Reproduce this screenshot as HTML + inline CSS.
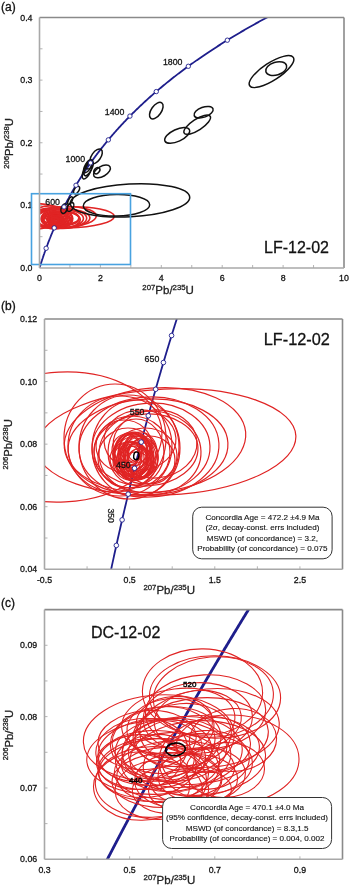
<!DOCTYPE html>
<html><head><meta charset="utf-8"><style>
html,body{margin:0;padding:0;background:#fff;}
svg{display:block;will-change:transform;}
text{font-family:"Liberation Sans",sans-serif;stroke:#111;stroke-width:0.28px;paint-order:stroke;}
</style></head><body>
<svg width="350" height="886" viewBox="0 0 350 886">
<rect width="350" height="886" fill="#fff"/>
<text x="1" y="11" font-size="12" text-anchor="start" fill="#111" style="stroke-width:0.3px">(a)</text>
<text x="32.5" y="271.0" font-size="8.8" text-anchor="end" fill="#111" >0.0</text>
<text x="32.5" y="208.375" font-size="8.8" text-anchor="end" fill="#111" >0.1</text>
<text x="32.5" y="145.75" font-size="8.8" text-anchor="end" fill="#111" >0.2</text>
<text x="32.5" y="83.125" font-size="8.8" text-anchor="end" fill="#111" >0.3</text>
<text x="32.5" y="20.5" font-size="8.8" text-anchor="end" fill="#111" >0.4</text>
<text x="39.5" y="281" font-size="8.8" text-anchor="middle" fill="#111" >0</text>
<text x="100.4" y="281" font-size="8.8" text-anchor="middle" fill="#111" >2</text>
<text x="161.3" y="281" font-size="8.8" text-anchor="middle" fill="#111" >4</text>
<text x="222.2" y="281" font-size="8.8" text-anchor="middle" fill="#111" >6</text>
<text x="283.1" y="281" font-size="8.8" text-anchor="middle" fill="#111" >8</text>
<text x="344.0" y="281" font-size="8.8" text-anchor="middle" fill="#111" >10</text>
<line x1="69.95" y1="268" x2="69.95" y2="265" stroke="#b4b4b4" stroke-width="1"/>
<line x1="100.40" y1="268" x2="100.40" y2="265" stroke="#b4b4b4" stroke-width="1"/>
<line x1="130.85" y1="268" x2="130.85" y2="265" stroke="#b4b4b4" stroke-width="1"/>
<line x1="161.30" y1="268" x2="161.30" y2="265" stroke="#b4b4b4" stroke-width="1"/>
<line x1="191.75" y1="268" x2="191.75" y2="265" stroke="#b4b4b4" stroke-width="1"/>
<line x1="222.20" y1="268" x2="222.20" y2="265" stroke="#b4b4b4" stroke-width="1"/>
<line x1="252.65" y1="268" x2="252.65" y2="265" stroke="#b4b4b4" stroke-width="1"/>
<line x1="283.10" y1="268" x2="283.10" y2="265" stroke="#b4b4b4" stroke-width="1"/>
<line x1="313.55" y1="268" x2="313.55" y2="265" stroke="#b4b4b4" stroke-width="1"/>
<line x1="39.5" y1="236.69" x2="42.5" y2="236.69" stroke="#b4b4b4" stroke-width="1"/>
<line x1="39.5" y1="205.38" x2="42.5" y2="205.38" stroke="#b4b4b4" stroke-width="1"/>
<line x1="39.5" y1="174.06" x2="42.5" y2="174.06" stroke="#b4b4b4" stroke-width="1"/>
<line x1="39.5" y1="142.75" x2="42.5" y2="142.75" stroke="#b4b4b4" stroke-width="1"/>
<line x1="39.5" y1="111.44" x2="42.5" y2="111.44" stroke="#b4b4b4" stroke-width="1"/>
<line x1="39.5" y1="80.12" x2="42.5" y2="80.12" stroke="#b4b4b4" stroke-width="1"/>
<line x1="39.5" y1="48.81" x2="42.5" y2="48.81" stroke="#b4b4b4" stroke-width="1"/>
<text transform="translate(13.2,143.4) rotate(-90)" text-anchor="middle" font-size="11.3" fill="#222"><tspan font-size="7.6" dy="-4.4">206</tspan><tspan dy="4.4">Pb/</tspan><tspan font-size="7.6" dy="-4.4">238</tspan><tspan dy="4.4">U</tspan></text>
<text x="142.3" y="293.6" font-size="11.5" fill="#222"><tspan font-size="7.8" dy="-4">207</tspan><tspan dy="4">Pb/</tspan><tspan font-size="7.8" dy="-4">235</tspan><tspan dy="4">U</tspan></text>
<text x="264" y="253.2" font-size="16" text-anchor="start" fill="#111" >LF-12-02</text>
<clipPath id="cp140692028163424"><rect x="39.5" y="17.5" width="304.5" height="250.5"/></clipPath>
<path d="M39.50,268.00 L39.62,267.63 L39.73,267.25 L39.85,266.88 L39.96,266.51 L40.08,266.14 L40.20,265.76 L40.32,265.39 L40.43,265.01 L40.55,264.64 L40.67,264.26 L40.79,263.89 L40.91,263.52 L41.03,263.14 L41.15,262.76 L41.27,262.39 L41.40,262.01 L41.52,261.64 L41.64,261.26 L41.76,260.88 L41.89,260.51 L42.01,260.13 L42.14,259.75 L42.26,259.38 L42.39,259.00 L42.51,258.62 L42.64,258.24 L42.77,257.86 L42.90,257.49 L43.02,257.11 L43.15,256.73 L43.28,256.35 L43.41,255.97 L43.54,255.59 L43.67,255.21 L43.80,254.83 L43.93,254.45 L44.06,254.07 L44.20,253.69 L44.33,253.31 L44.46,252.93 L44.60,252.54 L44.73,252.16 L44.87,251.78 L45.00,251.40 L45.14,251.02 L45.27,250.63 L45.41,250.25 L45.55,249.87 L45.69,249.48 L45.83,249.10 L45.97,248.72 L46.10,248.33 L46.25,247.95 L46.39,247.56 L46.53,247.18 L46.67,246.79 L46.81,246.41 L46.95,246.02 L47.10,245.64 L47.24,245.25 L47.39,244.87 L47.53,244.48 L47.68,244.09 L47.82,243.71 L47.97,243.32 L48.12,242.93 L48.26,242.55 L48.41,242.16 L48.56,241.77 L48.71,241.38 L48.86,240.99 L49.01,240.61 L49.16,240.22 L49.31,239.83 L49.47,239.44 L49.62,239.05 L49.77,238.66 L49.93,238.27 L50.08,237.88 L50.24,237.49 L50.39,237.10 L50.55,236.71 L50.71,236.32 L50.86,235.92 L51.02,235.53 L51.18,235.14 L51.34,234.75 L51.50,234.36 L51.66,233.96 L51.82,233.57 L51.98,233.18 L52.15,232.79 L52.31,232.39 L52.47,232.00 L52.64,231.60 L52.80,231.21 L52.97,230.82 L53.13,230.42 L53.30,230.03 L53.47,229.63 L53.63,229.24 L53.80,228.84 L53.97,228.44 L54.14,228.05 L54.31,227.65 L54.48,227.26 L54.66,226.86 L54.83,226.46 L55.00,226.06 L55.18,225.67 L55.35,225.27 L55.53,224.87 L55.70,224.47 L55.88,224.07 L56.05,223.68 L56.23,223.28 L56.41,222.88 L56.59,222.48 L56.77,222.08 L56.95,221.68 L57.13,221.28 L57.31,220.88 L57.50,220.48 L57.68,220.08 L57.86,219.68 L58.05,219.28 L58.23,218.87 L58.42,218.47 L58.61,218.07 L58.79,217.67 L58.98,217.27 L59.17,216.86 L59.36,216.46 L59.55,216.06 L59.74,215.65 L59.93,215.25 L60.13,214.85 L60.32,214.44 L60.51,214.04 L60.71,213.63 L60.90,213.23 L61.10,212.82 L61.30,212.42 L61.49,212.01 L61.69,211.61 L61.89,211.20 L62.09,210.79 L62.29,210.39 L62.49,209.98 L62.69,209.57 L62.90,209.17 L63.10,208.76 L63.31,208.35 L63.51,207.94 L63.72,207.53 L63.92,207.13 L64.13,206.72 L64.34,206.31 L64.55,205.90 L64.76,205.49 L64.97,205.08 L65.18,204.67 L65.39,204.26 L65.61,203.85 L65.82,203.44 L66.03,203.03 L66.25,202.62 L66.47,202.21 L66.68,201.79 L66.90,201.38 L67.12,200.97 L67.34,200.56 L67.56,200.14 L67.78,199.73 L68.00,199.32 L68.23,198.91 L68.45,198.49 L68.68,198.08 L68.90,197.66 L69.13,197.25 L69.35,196.84 L69.58,196.42 L69.81,196.01 L70.04,195.59 L70.27,195.17 L70.50,194.76 L70.74,194.34 L70.97,193.93 L71.20,193.51 L71.44,193.09 L71.67,192.68 L71.91,192.26 L72.15,191.84 L72.39,191.42 L72.63,191.00 L72.87,190.59 L73.11,190.17 L73.35,189.75 L73.59,189.33 L73.84,188.91 L74.08,188.49 L74.33,188.07 L74.58,187.65 L74.82,187.23 L75.07,186.81 L75.32,186.39 L75.57,185.97 L75.83,185.55 L76.08,185.13 L76.33,184.70 L76.59,184.28 L76.84,183.86 L77.10,183.44 L77.36,183.01 L77.61,182.59 L77.87,182.17 L78.13,181.74 L78.39,181.32 L78.66,180.90 L78.92,180.47 L79.18,180.05 L79.45,179.62 L79.72,179.20 L79.98,178.77 L80.25,178.35 L80.52,177.92 L80.79,177.49 L81.06,177.07 L81.34,176.64 L81.61,176.22 L81.88,175.79 L82.16,175.36 L82.44,174.93 L82.71,174.51 L82.99,174.08 L83.27,173.65 L83.55,173.22 L83.83,172.79 L84.12,172.36 L84.40,171.93 L84.69,171.50 L84.97,171.07 L85.26,170.64 L85.55,170.21 L85.84,169.78 L86.13,169.35 L86.42,168.92 L86.71,168.49 L87.00,168.06 L87.30,167.62 L87.60,167.19 L87.89,166.76 L88.19,166.33 L88.49,165.89 L88.79,165.46 L89.09,165.03 L89.39,164.59 L89.70,164.16 L90.00,163.73 L90.31,163.29 L90.62,162.86 L90.93,162.42 L91.24,161.99 L91.55,161.55 L91.86,161.11 L92.17,160.68 L92.49,160.24 L92.80,159.81 L93.12,159.37 L93.44,158.93 L93.76,158.49 L94.08,158.06 L94.40,157.62 L94.72,157.18 L95.04,156.74 L95.37,156.30 L95.70,155.86 L96.02,155.42 L96.35,154.99 L96.68,154.55 L97.01,154.11 L97.35,153.67 L97.68,153.22 L98.02,152.78 L98.35,152.34 L98.69,151.90 L99.03,151.46 L99.37,151.02 L99.71,150.58 L100.05,150.13 L100.40,149.69 L100.74,149.25 L101.09,148.81 L101.44,148.36 L101.79,147.92 L102.14,147.47 L102.49,147.03 L102.85,146.59 L103.20,146.14 L103.56,145.70 L103.91,145.25 L104.27,144.81 L104.63,144.36 L104.99,143.91 L105.36,143.47 L105.72,143.02 L106.09,142.57 L106.45,142.13 L106.82,141.68 L107.19,141.23 L107.56,140.78 L107.94,140.34 L108.31,139.89 L108.69,139.44 L109.06,138.99 L109.44,138.54 L109.82,138.09 L110.20,137.64 L110.58,137.19 L110.97,136.74 L111.35,136.29 L111.74,135.84 L112.13,135.39 L112.52,134.94 L112.91,134.48 L113.30,134.03 L113.70,133.58 L114.09,133.13 L114.49,132.68 L114.89,132.22 L115.29,131.77 L115.69,131.32 L116.09,130.86 L116.50,130.41 L116.91,129.95 L117.31,129.50 L117.72,129.04 L118.13,128.59 L118.55,128.13 L118.96,127.68 L119.38,127.22 L119.79,126.77 L120.21,126.31 L120.63,125.85 L121.06,125.39 L121.48,124.94 L121.90,124.48 L122.33,124.02 L122.76,123.56 L123.19,123.11 L123.62,122.65 L124.06,122.19 L124.49,121.73 L124.93,121.27 L125.37,120.81 L125.81,120.35 L126.25,119.89 L126.69,119.43 L127.13,118.97 L127.58,118.51 L128.03,118.04 L128.48,117.58 L128.93,117.12 L129.39,116.66 L129.84,116.20 L130.30,115.73 L130.76,115.27 L131.22,114.81 L131.68,114.34 L132.14,113.88 L132.61,113.42 L133.07,112.95 L133.54,112.49 L134.01,112.02 L134.49,111.56 L134.96,111.09 L135.44,110.62 L135.92,110.16 L136.40,109.69 L136.88,109.23 L137.36,108.76 L137.85,108.29 L138.33,107.82 L138.82,107.36 L139.31,106.89 L139.81,106.42 L140.30,105.95 L140.80,105.48 L141.30,105.01 L141.80,104.54 L142.30,104.07 L142.80,103.60 L143.31,103.13 L143.82,102.66 L144.33,102.19 L144.84,101.72 L145.35,101.25 L145.87,100.78 L146.38,100.31 L146.90,99.83 L147.42,99.36 L147.95,98.89 L148.47,98.41 L149.00,97.94 L149.53,97.47 L150.06,96.99 L150.59,96.52 L151.13,96.05 L151.67,95.57 L152.21,95.10 L152.75,94.62 L153.29,94.14 L153.84,93.67 L154.39,93.19 L154.93,92.72 L155.49,92.24 L156.04,91.76 L156.60,91.28 L157.15,90.81 L157.71,90.33 L158.28,89.85 L158.84,89.37 L159.41,88.89 L159.98,88.41 L160.55,87.94 L161.12,87.46 L161.70,86.98 L162.27,86.50 L162.85,86.02 L163.43,85.53 L164.02,85.05 L164.60,84.57 L165.19,84.09 L165.78,83.61 L166.38,83.13 L166.97,82.64 L167.57,82.16 L168.17,81.68 L168.77,81.19 L169.37,80.71 L169.98,80.23 L170.59,79.74 L171.20,79.26 L171.81,78.77 L172.43,78.29 L173.05,77.80 L173.67,77.32 L174.29,76.83 L174.92,76.35 L175.54,75.86 L176.17,75.37 L176.80,74.89 L177.44,74.40 L178.08,73.91 L178.72,73.42 L179.36,72.93 L180.00,72.45 L180.65,71.96 L181.30,71.47 L181.95,70.98 L182.60,70.49 L183.26,70.00 L183.92,69.51 L184.58,69.02 L185.24,68.53 L185.91,68.04 L186.58,67.54 L187.25,67.05 L187.92,66.56 L188.60,66.07 L189.28,65.58 L189.96,65.08 L190.65,64.59 L191.33,64.10 L192.02,63.60 L192.71,63.11 L193.41,62.61 L194.11,62.12 L194.81,61.62 L195.51,61.13 L196.21,60.63 L196.92,60.14 L197.63,59.64 L198.35,59.14 L199.06,58.65 L199.78,58.15 L200.50,57.65 L201.23,57.16 L201.95,56.66 L202.68,56.16 L203.42,55.66 L204.15,55.16 L204.89,54.66 L205.63,54.16 L206.37,53.66 L207.12,53.16 L207.87,52.66 L208.62,52.16 L209.37,51.66 L210.13,51.16 L210.89,50.66 L211.66,50.16 L212.42,49.66 L213.19,49.15 L213.96,48.65 L214.74,48.15 L215.52,47.64 L216.30,47.14 L217.08,46.64 L217.87,46.13 L218.66,45.63 L219.45,45.12 L220.25,44.62 L221.05,44.11 L221.85,43.61 L222.65,43.10 L223.46,42.59 L224.27,42.09 L225.09,41.58 L225.90,41.07 L226.72,40.57 L227.55,40.06 L228.37,39.55 L229.20,39.04 L230.04,38.53 L230.87,38.02 L231.71,37.52 L232.55,37.01 L233.40,36.50 L234.25,35.99 L235.10,35.48 L235.95,34.96 L236.81,34.45 L237.67,33.94 L238.54,33.43 L239.41,32.92 L240.28,32.41 L241.15,31.89 L242.03,31.38 L242.91,30.87 L243.80,30.35 L244.68,29.84 L245.57,29.33 L246.47,28.81 L247.37,28.30 L248.27,27.78 L249.17,27.27 L250.08,26.75 L250.99,26.23 L251.91,25.72 L252.83,25.20 L253.75,24.68 L254.67,24.17 L255.60,23.65 L256.54,23.13 L257.47,22.61 L258.41,22.09 L259.35,21.58 L260.30,21.06 L261.25,20.54 L262.21,20.02 L263.16,19.50 L264.12,18.98 L265.09,18.46 L266.06,17.94 L267.03,17.41 L268.01,16.89 L268.99,16.37 L269.97,15.85 L270.96,15.33 L271.95,14.80 L272.94,14.28 L273.94,13.76 L274.94,13.23 L275.95,12.71 L276.96,12.19 L277.97,11.66 L278.99,11.14 L280.01,10.61 L281.03,10.08 L282.06,9.56 L283.09,9.03 L284.13,8.51 L285.17,7.98 L286.21,7.45 L287.26,6.92 L288.32,6.40 L289.37,5.87 L290.43,5.34 L291.50,4.81 L292.56,4.28 L293.64,3.75 L294.71,3.22 L295.79,2.69 L296.88,2.16 L297.97,1.63 L299.06,1.10 L300.16,0.57 L301.26,0.04 L302.36,-0.49" fill="none" stroke="#1e1e8c" stroke-width="1.8" clip-path="url(#cp140692028163424)"/>
<clipPath id="cpa"><rect x="39.5" y="17.5" width="304.5" height="250.5"/></clipPath>
<g clip-path="url(#cpa)"><g transform="matrix(0.35765 0 0 0.20016 8.359 129.0)">
<ellipse cx="62" cy="437" rx="100" ry="65" transform="rotate(-3 62 437)" fill="none" stroke="#e02424" stroke-width="1.6" vector-effect="non-scaling-stroke"/>
<ellipse cx="166" cy="442" rx="130" ry="53" transform="rotate(-2.8 166 442)" fill="none" stroke="#e02424" stroke-width="1.6" vector-effect="non-scaling-stroke"/>
<ellipse cx="155" cy="440" rx="91" ry="52" transform="rotate(-5 155 440)" fill="none" stroke="#e02424" stroke-width="1.6" vector-effect="non-scaling-stroke"/>
<ellipse cx="148" cy="447" rx="80" ry="48" transform="rotate(-3 148 447)" fill="none" stroke="#e02424" stroke-width="1.6" vector-effect="non-scaling-stroke"/>
<ellipse cx="149" cy="447" rx="70" ry="50" transform="rotate(-3 149 447)" fill="none" stroke="#e02424" stroke-width="1.6" vector-effect="non-scaling-stroke"/>
<ellipse cx="151" cy="448" rx="59" ry="45" transform="rotate(-2 151 448)" fill="none" stroke="#e02424" stroke-width="1.6" vector-effect="non-scaling-stroke"/>
<ellipse cx="150" cy="453" rx="51" ry="42" transform="rotate(-2 150 453)" fill="none" stroke="#e02424" stroke-width="1.6" vector-effect="non-scaling-stroke"/>
<ellipse cx="115" cy="438" rx="51" ry="54" transform="rotate(0 115 438)" fill="none" stroke="#e02424" stroke-width="1.6" vector-effect="non-scaling-stroke"/>
<ellipse cx="120" cy="446" rx="52" ry="50" transform="rotate(0 120 446)" fill="none" stroke="#e02424" stroke-width="1.6" vector-effect="non-scaling-stroke"/>
<ellipse cx="129" cy="447" rx="50" ry="52" transform="rotate(0 129 447)" fill="none" stroke="#e02424" stroke-width="1.6" vector-effect="non-scaling-stroke"/>
<ellipse cx="146" cy="450" rx="52" ry="36" transform="rotate(-3 146 450)" fill="none" stroke="#e02424" stroke-width="1.6" vector-effect="non-scaling-stroke"/>
<ellipse cx="132" cy="452" rx="38" ry="36" transform="rotate(0 132 452)" fill="none" stroke="#e02424" stroke-width="1.6" vector-effect="non-scaling-stroke"/>
<ellipse cx="136" cy="448" rx="44" ry="48" transform="rotate(0 136 448)" fill="none" stroke="#e02424" stroke-width="1.6" vector-effect="non-scaling-stroke"/>
<ellipse cx="155" cy="444" rx="42" ry="34" transform="rotate(-4 155 444)" fill="none" stroke="#e02424" stroke-width="1.6" vector-effect="non-scaling-stroke"/>
<ellipse cx="140" cy="440" rx="36" ry="30" transform="rotate(-3 140 440)" fill="none" stroke="#e02424" stroke-width="1.6" vector-effect="non-scaling-stroke"/>
<ellipse cx="128" cy="458" rx="30" ry="30" transform="rotate(0 128 458)" fill="none" stroke="#e02424" stroke-width="1.6" vector-effect="non-scaling-stroke"/>
<ellipse cx="145" cy="456" rx="32" ry="28" transform="rotate(-2 145 456)" fill="none" stroke="#e02424" stroke-width="1.6" vector-effect="non-scaling-stroke"/>
<ellipse cx="136" cy="452" rx="28" ry="33" transform="rotate(0 136 452)" fill="none" stroke="#e02424" stroke-width="1.6" vector-effect="non-scaling-stroke"/>
<ellipse cx="124" cy="446" rx="28" ry="26" transform="rotate(0 124 446)" fill="none" stroke="#e02424" stroke-width="1.6" vector-effect="non-scaling-stroke"/>
<ellipse cx="150" cy="460" rx="25" ry="24" transform="rotate(0 150 460)" fill="none" stroke="#e02424" stroke-width="1.6" vector-effect="non-scaling-stroke"/>
<ellipse cx="135" cy="456" rx="17" ry="24" transform="rotate(0 135 456)" fill="none" stroke="#e02424" stroke-width="1.6" vector-effect="non-scaling-stroke"/>
<ellipse cx="133" cy="455" rx="15" ry="22" transform="rotate(0 133 455)" fill="none" stroke="#e02424" stroke-width="1.6" vector-effect="non-scaling-stroke"/>
<ellipse cx="137" cy="458" rx="16" ry="20" transform="rotate(0 137 458)" fill="none" stroke="#e02424" stroke-width="1.6" vector-effect="non-scaling-stroke"/>
<ellipse cx="134" cy="460" rx="14" ry="18" transform="rotate(0 134 460)" fill="none" stroke="#e02424" stroke-width="1.6" vector-effect="non-scaling-stroke"/>
<ellipse cx="132" cy="453" rx="18" ry="21" transform="rotate(0 132 453)" fill="none" stroke="#e02424" stroke-width="1.6" vector-effect="non-scaling-stroke"/>
<ellipse cx="138" cy="455" rx="13" ry="19" transform="rotate(0 138 455)" fill="none" stroke="#e02424" stroke-width="1.6" vector-effect="non-scaling-stroke"/>
<ellipse cx="136" cy="452" rx="12" ry="17" transform="rotate(0 136 452)" fill="none" stroke="#e02424" stroke-width="1.6" vector-effect="non-scaling-stroke"/>
<ellipse cx="131" cy="458" rx="13" ry="16" transform="rotate(0 131 458)" fill="none" stroke="#e02424" stroke-width="1.6" vector-effect="non-scaling-stroke"/>
<ellipse cx="139" cy="460" rx="15" ry="18" transform="rotate(0 139 460)" fill="none" stroke="#e02424" stroke-width="1.6" vector-effect="non-scaling-stroke"/>
<ellipse cx="135" cy="463" rx="16" ry="17" transform="rotate(0 135 463)" fill="none" stroke="#e02424" stroke-width="1.6" vector-effect="non-scaling-stroke"/>
<ellipse cx="133" cy="450" rx="14" ry="16" transform="rotate(0 133 450)" fill="none" stroke="#e02424" stroke-width="1.6" vector-effect="non-scaling-stroke"/>
<ellipse cx="137" cy="457" rx="10" ry="14" transform="rotate(0 137 457)" fill="none" stroke="#e02424" stroke-width="1.6" vector-effect="non-scaling-stroke"/>
<ellipse cx="134" cy="457" rx="20" ry="23" transform="rotate(0 134 457)" fill="none" stroke="#e02424" stroke-width="1.6" vector-effect="non-scaling-stroke"/>
<ellipse cx="130" cy="461" rx="17" ry="19" transform="rotate(0 130 461)" fill="none" stroke="#e02424" stroke-width="1.6" vector-effect="non-scaling-stroke"/>
<ellipse cx="140" cy="452" rx="17" ry="20" transform="rotate(0 140 452)" fill="none" stroke="#e02424" stroke-width="1.6" vector-effect="non-scaling-stroke"/>
<ellipse cx="136" cy="458" rx="22" ry="22" transform="rotate(0 136 458)" fill="none" stroke="#e02424" stroke-width="1.6" vector-effect="non-scaling-stroke"/>
<ellipse cx="132" cy="456" rx="9" ry="12" transform="rotate(0 132 456)" fill="none" stroke="#e02424" stroke-width="1.6" vector-effect="non-scaling-stroke"/>
<ellipse cx="138" cy="462" rx="11" ry="13" transform="rotate(0 138 462)" fill="none" stroke="#e02424" stroke-width="1.6" vector-effect="non-scaling-stroke"/>
<ellipse cx="128" cy="455" rx="14" ry="20" transform="rotate(0 128 455)" fill="none" stroke="#e02424" stroke-width="1.6" vector-effect="non-scaling-stroke"/>
<ellipse cx="142" cy="458" rx="14" ry="19" transform="rotate(0 142 458)" fill="none" stroke="#e02424" stroke-width="1.6" vector-effect="non-scaling-stroke"/>
<ellipse cx="134" cy="462" rx="18" ry="18" transform="rotate(0 134 462)" fill="none" stroke="#e02424" stroke-width="1.6" vector-effect="non-scaling-stroke"/>
<ellipse cx="131" cy="452" rx="16" ry="19" transform="rotate(0 131 452)" fill="none" stroke="#e02424" stroke-width="1.6" vector-effect="non-scaling-stroke"/>
<ellipse cx="139" cy="457" rx="19" ry="21" transform="rotate(0 139 457)" fill="none" stroke="#e02424" stroke-width="1.6" vector-effect="non-scaling-stroke"/>
<ellipse cx="136" cy="466" rx="15" ry="14" transform="rotate(0 136 466)" fill="none" stroke="#e02424" stroke-width="1.6" vector-effect="non-scaling-stroke"/>
<ellipse cx="129" cy="459" rx="19" ry="17" transform="rotate(0 129 459)" fill="none" stroke="#e02424" stroke-width="1.6" vector-effect="non-scaling-stroke"/>
<ellipse cx="135" cy="448" rx="15" ry="15" transform="rotate(0 135 448)" fill="none" stroke="#e02424" stroke-width="1.6" vector-effect="non-scaling-stroke"/>
<ellipse cx="141" cy="463" rx="13" ry="15" transform="rotate(0 141 463)" fill="none" stroke="#e02424" stroke-width="1.6" vector-effect="non-scaling-stroke"/>
<ellipse cx="127" cy="450" rx="15" ry="16" transform="rotate(0 127 450)" fill="none" stroke="#e02424" stroke-width="1.6" vector-effect="non-scaling-stroke"/>
<ellipse cx="133" cy="454" rx="6" ry="8" transform="rotate(0 133 454)" fill="none" stroke="#e02424" stroke-width="1.6" vector-effect="non-scaling-stroke"/>
<ellipse cx="131" cy="456" rx="8" ry="10" transform="rotate(0 131 456)" fill="none" stroke="#e02424" stroke-width="1.6" vector-effect="non-scaling-stroke"/>
<ellipse cx="135" cy="452" rx="7" ry="9" transform="rotate(0 135 452)" fill="none" stroke="#e02424" stroke-width="1.6" vector-effect="non-scaling-stroke"/>
<ellipse cx="130" cy="453" rx="10" ry="12" transform="rotate(0 130 453)" fill="none" stroke="#e02424" stroke-width="1.6" vector-effect="non-scaling-stroke"/>
</g></g>
<ellipse cx="271.50" cy="71.60" rx="26.00" ry="8.80" transform="rotate(-33.0 271.50 71.60)" fill="none" stroke="#111" stroke-width="1.5"/>
<ellipse cx="276.20" cy="68.60" rx="10.80" ry="6.40" transform="rotate(-17.0 276.20 68.60)" fill="none" stroke="#111" stroke-width="1.5"/>
<ellipse cx="156.30" cy="110.60" rx="9.50" ry="5.00" transform="rotate(-55.0 156.30 110.60)" fill="none" stroke="#111" stroke-width="1.5"/>
<ellipse cx="177.20" cy="135.40" rx="13.50" ry="6.00" transform="rotate(-25.0 177.20 135.40)" fill="none" stroke="#111" stroke-width="1.5"/>
<ellipse cx="197.20" cy="124.70" rx="15.50" ry="5.50" transform="rotate(-33.0 197.20 124.70)" fill="none" stroke="#111" stroke-width="1.5"/>
<ellipse cx="203.60" cy="112.20" rx="10.00" ry="5.00" transform="rotate(-20.0 203.60 112.20)" fill="none" stroke="#111" stroke-width="1.5"/>
<ellipse cx="96.20" cy="156.40" rx="8.50" ry="4.50" transform="rotate(-55.0 96.20 156.40)" fill="none" stroke="#111" stroke-width="1.5"/>
<ellipse cx="102.00" cy="171.40" rx="9.30" ry="5.00" transform="rotate(-30.0 102.00 171.40)" fill="none" stroke="#111" stroke-width="1.5"/>
<ellipse cx="96.90" cy="170.70" rx="3.50" ry="2.50" transform="rotate(-50.0 96.90 170.70)" fill="none" stroke="#111" stroke-width="1.5"/>
<ellipse cx="88.60" cy="168.60" rx="8.00" ry="3.00" transform="rotate(-62.0 88.60 168.60)" fill="none" stroke="#111" stroke-width="1.5"/>
<ellipse cx="87.10" cy="170.70" rx="9.00" ry="3.50" transform="rotate(-65.0 87.10 170.70)" fill="none" stroke="#111" stroke-width="1.5"/>
<ellipse cx="87.90" cy="166.40" rx="7.00" ry="3.00" transform="rotate(-60.0 87.90 166.40)" fill="none" stroke="#111" stroke-width="1.5"/>
<ellipse cx="89.30" cy="164.30" rx="5.00" ry="3.00" transform="rotate(-60.0 89.30 164.30)" fill="none" stroke="#111" stroke-width="1.5"/>
<ellipse cx="130.00" cy="200.40" rx="59.80" ry="16.40" transform="rotate(-3.0 130.00 200.40)" fill="none" stroke="#111" stroke-width="1.5"/>
<ellipse cx="116.50" cy="205.30" rx="33.20" ry="10.80" transform="rotate(-1.0 116.50 205.30)" fill="none" stroke="#111" stroke-width="1.5"/>
<ellipse cx="76.60" cy="190.00" rx="4.30" ry="2.30" transform="rotate(-60.0 76.60 190.00)" fill="none" stroke="#111" stroke-width="1.5"/>
<ellipse cx="70.20" cy="200.70" rx="4.20" ry="1.80" transform="rotate(-65.0 70.20 200.70)" fill="none" stroke="#111" stroke-width="1.5"/>
<ellipse cx="64.20" cy="208.60" rx="5.00" ry="3.00" transform="rotate(-70.0 64.20 208.60)" fill="none" stroke="#111" stroke-width="1.5"/>
<ellipse cx="70.40" cy="206.90" rx="4.80" ry="2.80" transform="rotate(-60.0 70.40 206.90)" fill="none" stroke="#111" stroke-width="1.5"/>
<circle cx="46.13" cy="248.27" r="2.2" fill="#fff" stroke="#1e1e8c" stroke-width="0.9"/>
<circle cx="54.20" cy="227.91" r="2.2" fill="#fff" stroke="#1e1e8c" stroke-width="0.9"/>
<circle cx="64.03" cy="206.91" r="2.2" fill="#fff" stroke="#1e1e8c" stroke-width="0.9"/>
<circle cx="76.00" cy="185.25" r="2.2" fill="#fff" stroke="#1e1e8c" stroke-width="0.9"/>
<circle cx="90.58" cy="162.91" r="2.2" fill="#fff" stroke="#1e1e8c" stroke-width="0.9"/>
<circle cx="108.33" cy="139.87" r="2.2" fill="#fff" stroke="#1e1e8c" stroke-width="0.9"/>
<circle cx="129.94" cy="116.10" r="2.2" fill="#fff" stroke="#1e1e8c" stroke-width="0.9"/>
<circle cx="156.26" cy="91.58" r="2.2" fill="#fff" stroke="#1e1e8c" stroke-width="0.9"/>
<circle cx="188.31" cy="66.28" r="2.2" fill="#fff" stroke="#1e1e8c" stroke-width="0.9"/>
<circle cx="227.33" cy="40.19" r="2.2" fill="#fff" stroke="#1e1e8c" stroke-width="0.9"/>
<text x="65.5" y="161.9" font-size="8.8" text-anchor="start" fill="#111" >1000</text>
<text x="104.8" y="115.1" font-size="8.8" text-anchor="start" fill="#111" >1400</text>
<text x="162.9" y="65.2" font-size="8.8" text-anchor="start" fill="#111" >1800</text>
<text x="45.3" y="205.4" font-size="8.8" text-anchor="start" fill="#111" >600</text>
<rect x="31.5" y="193.7" width="99" height="70.8" fill="none" stroke="#48a2e0" stroke-width="1.6"/>
<line x1="39.5" y1="17.5" x2="344" y2="17.5" stroke="#8a8a8a" stroke-width="1.6"/>
<line x1="344" y1="17.5" x2="344" y2="268" stroke="#8a8a8a" stroke-width="1.6"/>
<line x1="39.5" y1="17.5" x2="39.5" y2="268" stroke="#a8a8a8" stroke-width="1.6"/>
<line x1="39.5" y1="268" x2="344" y2="268" stroke="#a8a8a8" stroke-width="1.6"/>
<text x="1" y="310.3" font-size="12" text-anchor="start" fill="#111" style="stroke-width:0.3px">(b)</text>
<text x="37.2" y="572.3" font-size="8.8" text-anchor="end" fill="#111" >0.04</text>
<text x="37.2" y="509.72499999999997" font-size="8.8" text-anchor="end" fill="#111" >0.06</text>
<text x="37.2" y="447.15" font-size="8.8" text-anchor="end" fill="#111" >0.08</text>
<text x="37.2" y="384.57499999999993" font-size="8.8" text-anchor="end" fill="#111" >0.10</text>
<text x="37.2" y="322.0" font-size="8.8" text-anchor="end" fill="#111" >0.12</text>
<text x="44.5" y="582.6" font-size="8.8" text-anchor="middle" fill="#111" >-0.5</text>
<text x="129.64285714285714" y="582.6" font-size="8.8" text-anchor="middle" fill="#111" >0.5</text>
<text x="214.78571428571428" y="582.6" font-size="8.8" text-anchor="middle" fill="#111" >1.5</text>
<text x="299.92857142857144" y="582.6" font-size="8.8" text-anchor="middle" fill="#111" >2.5</text>
<line x1="87.07" y1="569.3" x2="87.07" y2="566.3" stroke="#b4b4b4" stroke-width="1"/>
<line x1="129.64" y1="569.3" x2="129.64" y2="566.3" stroke="#b4b4b4" stroke-width="1"/>
<line x1="172.21" y1="569.3" x2="172.21" y2="566.3" stroke="#b4b4b4" stroke-width="1"/>
<line x1="214.79" y1="569.3" x2="214.79" y2="566.3" stroke="#b4b4b4" stroke-width="1"/>
<line x1="257.36" y1="569.3" x2="257.36" y2="566.3" stroke="#b4b4b4" stroke-width="1"/>
<line x1="299.93" y1="569.3" x2="299.93" y2="566.3" stroke="#b4b4b4" stroke-width="1"/>
<line x1="44.5" y1="538.01" x2="47.5" y2="538.01" stroke="#b4b4b4" stroke-width="1"/>
<line x1="44.5" y1="506.72" x2="47.5" y2="506.72" stroke="#b4b4b4" stroke-width="1"/>
<line x1="44.5" y1="475.44" x2="47.5" y2="475.44" stroke="#b4b4b4" stroke-width="1"/>
<line x1="44.5" y1="444.15" x2="47.5" y2="444.15" stroke="#b4b4b4" stroke-width="1"/>
<line x1="44.5" y1="412.86" x2="47.5" y2="412.86" stroke="#b4b4b4" stroke-width="1"/>
<line x1="44.5" y1="381.57" x2="47.5" y2="381.57" stroke="#b4b4b4" stroke-width="1"/>
<line x1="44.5" y1="350.29" x2="47.5" y2="350.29" stroke="#b4b4b4" stroke-width="1"/>
<text transform="translate(12.3,444.3) rotate(-90)" text-anchor="middle" font-size="11.3" fill="#222"><tspan font-size="7.6" dy="-4.4">206</tspan><tspan dy="4.4">Pb/</tspan><tspan font-size="7.6" dy="-4.4">238</tspan><tspan dy="4.4">U</tspan></text>
<text x="143.4" y="594" font-size="11.5" fill="#222"><tspan font-size="7.8" dy="-4">207</tspan><tspan dy="4">Pb/</tspan><tspan font-size="7.8" dy="-4">235</tspan><tspan dy="4">U</tspan></text>
<clipPath id="cp140692028165584"><rect x="44.5" y="319" width="298.0" height="250.29999999999995"/></clipPath>
<path d="M87.07,694.45 L87.20,693.72 L87.32,692.99 L87.45,692.27 L87.58,691.54 L87.70,690.81 L87.83,690.08 L87.96,689.35 L88.08,688.62 L88.21,687.89 L88.34,687.16 L88.47,686.43 L88.59,685.70 L88.72,684.97 L88.85,684.24 L88.98,683.51 L89.11,682.78 L89.24,682.05 L89.37,681.32 L89.50,680.59 L89.62,679.86 L89.75,679.12 L89.88,678.39 L90.01,677.66 L90.14,676.93 L90.27,676.20 L90.41,675.46 L90.54,674.73 L90.67,674.00 L90.80,673.27 L90.93,672.53 L91.06,671.80 L91.19,671.07 L91.32,670.33 L91.46,669.60 L91.59,668.87 L91.72,668.13 L91.85,667.40 L91.99,666.66 L92.12,665.93 L92.25,665.19 L92.39,664.46 L92.52,663.72 L92.66,662.99 L92.79,662.25 L92.92,661.52 L93.06,660.78 L93.19,660.05 L93.33,659.31 L93.46,658.57 L93.60,657.84 L93.73,657.10 L93.87,656.36 L94.01,655.63 L94.14,654.89 L94.28,654.15 L94.41,653.41 L94.55,652.68 L94.69,651.94 L94.83,651.20 L94.96,650.46 L95.10,649.72 L95.24,648.99 L95.38,648.25 L95.51,647.51 L95.65,646.77 L95.79,646.03 L95.93,645.29 L96.07,644.55 L96.21,643.81 L96.35,643.07 L96.49,642.33 L96.63,641.59 L96.77,640.85 L96.91,640.11 L97.05,639.37 L97.19,638.63 L97.33,637.89 L97.47,637.15 L97.61,636.40 L97.75,635.66 L97.89,634.92 L98.04,634.18 L98.18,633.44 L98.32,632.69 L98.46,631.95 L98.61,631.21 L98.75,630.47 L98.89,629.72 L99.04,628.98 L99.18,628.24 L99.32,627.49 L99.47,626.75 L99.61,626.01 L99.75,625.26 L99.90,624.52 L100.04,623.77 L100.19,623.03 L100.33,622.28 L100.48,621.54 L100.63,620.79 L100.77,620.05 L100.92,619.30 L101.06,618.56 L101.21,617.81 L101.36,617.07 L101.50,616.32 L101.65,615.57 L101.80,614.83 L101.95,614.08 L102.09,613.33 L102.24,612.59 L102.39,611.84 L102.54,611.09 L102.69,610.35 L102.84,609.60 L102.99,608.85 L103.14,608.10 L103.29,607.35 L103.44,606.60 L103.59,605.86 L103.74,605.11 L103.89,604.36 L104.04,603.61 L104.19,602.86 L104.34,602.11 L104.49,601.36 L104.64,600.61 L104.79,599.86 L104.95,599.11 L105.10,598.36 L105.25,597.61 L105.40,596.86 L105.56,596.11 L105.71,595.36 L105.86,594.61 L106.02,593.86 L106.17,593.10 L106.32,592.35 L106.48,591.60 L106.63,590.85 L106.79,590.10 L106.94,589.34 L107.10,588.59 L107.25,587.84 L107.41,587.09 L107.57,586.33 L107.72,585.58 L107.88,584.83 L108.04,584.07 L108.19,583.32 L108.35,582.56 L108.51,581.81 L108.66,581.06 L108.82,580.30 L108.98,579.55 L109.14,578.79 L109.30,578.04 L109.46,577.28 L109.61,576.53 L109.77,575.77 L109.93,575.02 L110.09,574.26 L110.25,573.50 L110.41,572.75 L110.57,571.99 L110.73,571.23 L110.89,570.48 L111.06,569.72 L111.22,568.96 L111.38,568.21 L111.54,567.45 L111.70,566.69 L111.86,565.93 L112.03,565.17 L112.19,564.42 L112.35,563.66 L112.52,562.90 L112.68,562.14 L112.84,561.38 L113.01,560.62 L113.17,559.86 L113.34,559.10 L113.50,558.34 L113.67,557.59 L113.83,556.83 L114.00,556.07 L114.16,555.30 L114.33,554.54 L114.49,553.78 L114.66,553.02 L114.83,552.26 L114.99,551.50 L115.16,550.74 L115.33,549.98 L115.50,549.22 L115.66,548.45 L115.83,547.69 L116.00,546.93 L116.17,546.17 L116.34,545.40 L116.51,544.64 L116.68,543.88 L116.85,543.12 L117.02,542.35 L117.19,541.59 L117.36,540.83 L117.53,540.06 L117.70,539.30 L117.87,538.53 L118.04,537.77 L118.21,537.00 L118.38,536.24 L118.56,535.47 L118.73,534.71 L118.90,533.94 L119.07,533.18 L119.25,532.41 L119.42,531.65 L119.59,530.88 L119.77,530.12 L119.94,529.35 L120.12,528.58 L120.29,527.82 L120.47,527.05 L120.64,526.28 L120.82,525.51 L120.99,524.75 L121.17,523.98 L121.35,523.21 L121.52,522.44 L121.70,521.68 L121.88,520.91 L122.05,520.14 L122.23,519.37 L122.41,518.60 L122.59,517.83 L122.77,517.06 L122.94,516.29 L123.12,515.52 L123.30,514.75 L123.48,513.98 L123.66,513.21 L123.84,512.44 L124.02,511.67 L124.20,510.90 L124.38,510.13 L124.56,509.36 L124.75,508.59 L124.93,507.82 L125.11,507.05 L125.29,506.28 L125.47,505.50 L125.66,504.73 L125.84,503.96 L126.02,503.19 L126.21,502.41 L126.39,501.64 L126.57,500.87 L126.76,500.09 L126.94,499.32 L127.13,498.55 L127.31,497.77 L127.50,497.00 L127.68,496.23 L127.87,495.45 L128.06,494.68 L128.24,493.90 L128.43,493.13 L128.62,492.35 L128.80,491.58 L128.99,490.80 L129.18,490.03 L129.37,489.25 L129.55,488.48 L129.74,487.70 L129.93,486.92 L130.12,486.15 L130.31,485.37 L130.50,484.59 L130.69,483.82 L130.88,483.04 L131.07,482.26 L131.26,481.49 L131.45,480.71 L131.65,479.93 L131.84,479.15 L132.03,478.37 L132.22,477.59 L132.41,476.82 L132.61,476.04 L132.80,475.26 L132.99,474.48 L133.19,473.70 L133.38,472.92 L133.58,472.14 L133.77,471.36 L133.97,470.58 L134.16,469.80 L134.36,469.02 L134.55,468.24 L134.75,467.46 L134.94,466.68 L135.14,465.90 L135.34,465.12 L135.54,464.33 L135.73,463.55 L135.93,462.77 L136.13,461.99 L136.33,461.21 L136.53,460.42 L136.72,459.64 L136.92,458.86 L137.12,458.08 L137.32,457.29 L137.52,456.51 L137.72,455.73 L137.92,454.94 L138.13,454.16 L138.33,453.37 L138.53,452.59 L138.73,451.81 L138.93,451.02 L139.14,450.24 L139.34,449.45 L139.54,448.67 L139.74,447.88 L139.95,447.10 L140.15,446.31 L140.36,445.52 L140.56,444.74 L140.77,443.95 L140.97,443.17 L141.18,442.38 L141.38,441.59 L141.59,440.81 L141.80,440.02 L142.00,439.23 L142.21,438.44 L142.42,437.66 L142.62,436.87 L142.83,436.08 L143.04,435.29 L143.25,434.50 L143.46,433.71 L143.67,432.93 L143.88,432.14 L144.09,431.35 L144.30,430.56 L144.51,429.77 L144.72,428.98 L144.93,428.19 L145.14,427.40 L145.35,426.61 L145.57,425.82 L145.78,425.03 L145.99,424.24 L146.20,423.45 L146.42,422.66 L146.63,421.86 L146.84,421.07 L147.06,420.28 L147.27,419.49 L147.49,418.70 L147.70,417.90 L147.92,417.11 L148.13,416.32 L148.35,415.53 L148.57,414.73 L148.78,413.94 L149.00,413.15 L149.22,412.35 L149.44,411.56 L149.65,410.77 L149.87,409.97 L150.09,409.18 L150.31,408.38 L150.53,407.59 L150.75,406.79 L150.97,406.00 L151.19,405.20 L151.41,404.41 L151.63,403.61 L151.85,402.82 L152.07,402.02 L152.30,401.22 L152.52,400.43 L152.74,399.63 L152.96,398.83 L153.19,398.04 L153.41,397.24 L153.63,396.44 L153.86,395.65 L154.08,394.85 L154.31,394.05 L154.53,393.25 L154.76,392.45 L154.99,391.66 L155.21,390.86 L155.44,390.06 L155.67,389.26 L155.89,388.46 L156.12,387.66 L156.35,386.86 L156.58,386.06 L156.80,385.26 L157.03,384.46 L157.26,383.66 L157.49,382.86 L157.72,382.06 L157.95,381.26 L158.18,380.46 L158.41,379.66 L158.65,378.86 L158.88,378.05 L159.11,377.25 L159.34,376.45 L159.57,375.65 L159.81,374.85 L160.04,374.04 L160.28,373.24 L160.51,372.44 L160.74,371.64 L160.98,370.83 L161.21,370.03 L161.45,369.22 L161.68,368.42 L161.92,367.62 L162.16,366.81 L162.39,366.01 L162.63,365.20 L162.87,364.40 L163.11,363.59 L163.35,362.79 L163.58,361.98 L163.82,361.18 L164.06,360.37 L164.30,359.57 L164.54,358.76 L164.78,357.95 L165.02,357.15 L165.26,356.34 L165.51,355.54 L165.75,354.73 L165.99,353.92 L166.23,353.11 L166.48,352.31 L166.72,351.50 L166.96,350.69 L167.21,349.88 L167.45,349.07 L167.70,348.27 L167.94,347.46 L168.19,346.65 L168.43,345.84 L168.68,345.03 L168.92,344.22 L169.17,343.41 L169.42,342.60 L169.67,341.79 L169.91,340.98 L170.16,340.17 L170.41,339.36 L170.66,338.55 L170.91,337.74 L171.16,336.93 L171.41,336.12 L171.66,335.30 L171.91,334.49 L172.16,333.68 L172.41,332.87 L172.67,332.06 L172.92,331.24 L173.17,330.43 L173.42,329.62 L173.68,328.81 L173.93,327.99 L174.19,327.18 L174.44,326.37 L174.70,325.55 L174.95,324.74 L175.21,323.92 L175.46,323.11 L175.72,322.29 L175.98,321.48 L176.23,320.66 L176.49,319.85 L176.75,319.03 L177.01,318.22 L177.27,317.40 L177.53,316.59 L177.79,315.77 L178.05,314.96 L178.31,314.14 L178.57,313.32 L178.83,312.51 L179.09,311.69 L179.35,310.87 L179.61,310.05 L179.88,309.24 L180.14,308.42 L180.40,307.60 L180.67,306.78 L180.93,305.96 L181.20,305.15 L181.46,304.33 L181.73,303.51 L181.99,302.69 L182.26,301.87 L182.52,301.05 L182.79,300.23 L183.06,299.41 L183.33,298.59 L183.60,297.77 L183.86,296.95 L184.13,296.13 L184.40,295.31 L184.67,294.49 L184.94,293.67 L185.21,292.85 L185.48,292.02 L185.75,291.20 L186.03,290.38 L186.30,289.56 L186.57,288.74 L186.84,287.91 L187.12,287.09 L187.39,286.27 L187.67,285.44 L187.94,284.62 L188.22,283.80 L188.49,282.97 L188.77,282.15 L189.04,281.33 L189.32,280.50 L189.60,279.68 L189.87,278.85 L190.15,278.03 L190.43,277.20 L190.71,276.38 L190.99,275.55 L191.27,274.73 L191.55,273.90 L191.83,273.07 L192.11,272.25 L192.39,271.42 L192.67,270.60 L192.95,269.77 L193.24,268.94 L193.52,268.11 L193.80,267.29 L194.08,266.46 L194.37,265.63 L194.65,264.80 L194.94,263.98 L195.22,263.15 L195.51,262.32 L195.80,261.49 L196.08,260.66 L196.37,259.83 L196.66,259.00 L196.94,258.17 L197.23,257.34 L197.52,256.51 L197.81,255.68 L198.10,254.85 L198.39,254.02 L198.68,253.19 L198.97,252.36 L199.26,251.53 L199.55,250.70 L199.85,249.87 L200.14,249.04 L200.43,248.21 L200.73,247.37 L201.02,246.54 L201.31,245.71 L201.61,244.88 L201.90,244.04 L202.20,243.21 L202.50,242.38 L202.79,241.54 L203.09,240.71 L203.39,239.88 L203.68,239.04 L203.98,238.21 L204.28,237.38 L204.58,236.54 L204.88,235.71 L205.18,234.87 L205.48,234.04 L205.78,233.20 L206.08,232.37 L206.38,231.53 L206.69,230.69 L206.99,229.86 L207.29,229.02 L207.60,228.19 L207.90,227.35 L208.21,226.51 L208.51,225.68" fill="none" stroke="#1e1e8c" stroke-width="1.8" clip-path="url(#cp140692028165584)"/>
<clipPath id="cpb"><rect x="44.5" y="319" width="298" height="250.3"/></clipPath>
<g clip-path="url(#cpb)">
<ellipse cx="62.00" cy="437.00" rx="100.00" ry="65.00" transform="rotate(-3.0 62.00 437.00)" fill="none" stroke="#e02424" stroke-width="1.2"/>
<ellipse cx="166.00" cy="442.00" rx="130.00" ry="53.00" transform="rotate(-2.8 166.00 442.00)" fill="none" stroke="#e02424" stroke-width="1.2"/>
<ellipse cx="155.00" cy="440.00" rx="91.00" ry="52.00" transform="rotate(-5.0 155.00 440.00)" fill="none" stroke="#e02424" stroke-width="1.2"/>
<ellipse cx="148.00" cy="447.00" rx="80.00" ry="48.00" transform="rotate(-3.0 148.00 447.00)" fill="none" stroke="#e02424" stroke-width="1.2"/>
<ellipse cx="149.00" cy="447.00" rx="70.00" ry="50.00" transform="rotate(-3.0 149.00 447.00)" fill="none" stroke="#e02424" stroke-width="1.2"/>
<ellipse cx="151.00" cy="448.00" rx="59.00" ry="45.00" transform="rotate(-2.0 151.00 448.00)" fill="none" stroke="#e02424" stroke-width="1.2"/>
<ellipse cx="150.00" cy="453.00" rx="51.00" ry="42.00" transform="rotate(-2.0 150.00 453.00)" fill="none" stroke="#e02424" stroke-width="1.2"/>
<ellipse cx="115.00" cy="438.00" rx="51.00" ry="54.00" transform="rotate(0.0 115.00 438.00)" fill="none" stroke="#e02424" stroke-width="1.2"/>
<ellipse cx="120.00" cy="446.00" rx="52.00" ry="50.00" transform="rotate(0.0 120.00 446.00)" fill="none" stroke="#e02424" stroke-width="1.2"/>
<ellipse cx="129.00" cy="447.00" rx="50.00" ry="52.00" transform="rotate(0.0 129.00 447.00)" fill="none" stroke="#e02424" stroke-width="1.2"/>
<ellipse cx="146.00" cy="450.00" rx="52.00" ry="36.00" transform="rotate(-3.0 146.00 450.00)" fill="none" stroke="#e02424" stroke-width="1.2"/>
<ellipse cx="132.00" cy="452.00" rx="38.00" ry="36.00" transform="rotate(0.0 132.00 452.00)" fill="none" stroke="#e02424" stroke-width="1.2"/>
<ellipse cx="136.00" cy="448.00" rx="44.00" ry="48.00" transform="rotate(0.0 136.00 448.00)" fill="none" stroke="#e02424" stroke-width="1.2"/>
<ellipse cx="155.00" cy="444.00" rx="42.00" ry="34.00" transform="rotate(-4.0 155.00 444.00)" fill="none" stroke="#e02424" stroke-width="1.2"/>
<ellipse cx="140.00" cy="440.00" rx="36.00" ry="30.00" transform="rotate(-3.0 140.00 440.00)" fill="none" stroke="#e02424" stroke-width="1.2"/>
<ellipse cx="128.00" cy="458.00" rx="30.00" ry="30.00" transform="rotate(0.0 128.00 458.00)" fill="none" stroke="#e02424" stroke-width="1.2"/>
<ellipse cx="145.00" cy="456.00" rx="32.00" ry="28.00" transform="rotate(-2.0 145.00 456.00)" fill="none" stroke="#e02424" stroke-width="1.2"/>
<ellipse cx="136.00" cy="452.00" rx="28.00" ry="33.00" transform="rotate(0.0 136.00 452.00)" fill="none" stroke="#e02424" stroke-width="1.2"/>
<ellipse cx="124.00" cy="446.00" rx="28.00" ry="26.00" transform="rotate(0.0 124.00 446.00)" fill="none" stroke="#e02424" stroke-width="1.2"/>
<ellipse cx="150.00" cy="460.00" rx="25.00" ry="24.00" transform="rotate(0.0 150.00 460.00)" fill="none" stroke="#e02424" stroke-width="1.2"/>
<ellipse cx="135.00" cy="456.00" rx="17.00" ry="24.00" transform="rotate(0.0 135.00 456.00)" fill="none" stroke="#e02424" stroke-width="1.2"/>
<ellipse cx="133.00" cy="455.00" rx="15.00" ry="22.00" transform="rotate(0.0 133.00 455.00)" fill="none" stroke="#e02424" stroke-width="1.2"/>
<ellipse cx="137.00" cy="458.00" rx="16.00" ry="20.00" transform="rotate(0.0 137.00 458.00)" fill="none" stroke="#e02424" stroke-width="1.2"/>
<ellipse cx="134.00" cy="460.00" rx="14.00" ry="18.00" transform="rotate(0.0 134.00 460.00)" fill="none" stroke="#e02424" stroke-width="1.2"/>
<ellipse cx="132.00" cy="453.00" rx="18.00" ry="21.00" transform="rotate(0.0 132.00 453.00)" fill="none" stroke="#e02424" stroke-width="1.2"/>
<ellipse cx="138.00" cy="455.00" rx="13.00" ry="19.00" transform="rotate(0.0 138.00 455.00)" fill="none" stroke="#e02424" stroke-width="1.2"/>
<ellipse cx="136.00" cy="452.00" rx="12.00" ry="17.00" transform="rotate(0.0 136.00 452.00)" fill="none" stroke="#e02424" stroke-width="1.2"/>
<ellipse cx="131.00" cy="458.00" rx="13.00" ry="16.00" transform="rotate(0.0 131.00 458.00)" fill="none" stroke="#e02424" stroke-width="1.2"/>
<ellipse cx="139.00" cy="460.00" rx="15.00" ry="18.00" transform="rotate(0.0 139.00 460.00)" fill="none" stroke="#e02424" stroke-width="1.2"/>
<ellipse cx="135.00" cy="463.00" rx="16.00" ry="17.00" transform="rotate(0.0 135.00 463.00)" fill="none" stroke="#e02424" stroke-width="1.2"/>
<ellipse cx="133.00" cy="450.00" rx="14.00" ry="16.00" transform="rotate(0.0 133.00 450.00)" fill="none" stroke="#e02424" stroke-width="1.2"/>
<ellipse cx="137.00" cy="457.00" rx="10.00" ry="14.00" transform="rotate(0.0 137.00 457.00)" fill="none" stroke="#e02424" stroke-width="1.2"/>
<ellipse cx="134.00" cy="457.00" rx="20.00" ry="23.00" transform="rotate(0.0 134.00 457.00)" fill="none" stroke="#e02424" stroke-width="1.2"/>
<ellipse cx="130.00" cy="461.00" rx="17.00" ry="19.00" transform="rotate(0.0 130.00 461.00)" fill="none" stroke="#e02424" stroke-width="1.2"/>
<ellipse cx="140.00" cy="452.00" rx="17.00" ry="20.00" transform="rotate(0.0 140.00 452.00)" fill="none" stroke="#e02424" stroke-width="1.2"/>
<ellipse cx="136.00" cy="458.00" rx="22.00" ry="22.00" transform="rotate(0.0 136.00 458.00)" fill="none" stroke="#e02424" stroke-width="1.2"/>
<ellipse cx="132.00" cy="456.00" rx="9.00" ry="12.00" transform="rotate(0.0 132.00 456.00)" fill="none" stroke="#e02424" stroke-width="1.2"/>
<ellipse cx="138.00" cy="462.00" rx="11.00" ry="13.00" transform="rotate(0.0 138.00 462.00)" fill="none" stroke="#e02424" stroke-width="1.2"/>
<ellipse cx="128.00" cy="455.00" rx="14.00" ry="20.00" transform="rotate(0.0 128.00 455.00)" fill="none" stroke="#e02424" stroke-width="1.2"/>
<ellipse cx="142.00" cy="458.00" rx="14.00" ry="19.00" transform="rotate(0.0 142.00 458.00)" fill="none" stroke="#e02424" stroke-width="1.2"/>
<ellipse cx="134.00" cy="462.00" rx="18.00" ry="18.00" transform="rotate(0.0 134.00 462.00)" fill="none" stroke="#e02424" stroke-width="1.2"/>
<ellipse cx="131.00" cy="452.00" rx="16.00" ry="19.00" transform="rotate(0.0 131.00 452.00)" fill="none" stroke="#e02424" stroke-width="1.2"/>
<ellipse cx="139.00" cy="457.00" rx="19.00" ry="21.00" transform="rotate(0.0 139.00 457.00)" fill="none" stroke="#e02424" stroke-width="1.2"/>
<ellipse cx="136.00" cy="466.00" rx="15.00" ry="14.00" transform="rotate(0.0 136.00 466.00)" fill="none" stroke="#e02424" stroke-width="1.2"/>
<ellipse cx="129.00" cy="459.00" rx="19.00" ry="17.00" transform="rotate(0.0 129.00 459.00)" fill="none" stroke="#e02424" stroke-width="1.2"/>
<ellipse cx="135.00" cy="448.00" rx="15.00" ry="15.00" transform="rotate(0.0 135.00 448.00)" fill="none" stroke="#e02424" stroke-width="1.2"/>
<ellipse cx="141.00" cy="463.00" rx="13.00" ry="15.00" transform="rotate(0.0 141.00 463.00)" fill="none" stroke="#e02424" stroke-width="1.2"/>
<ellipse cx="127.00" cy="450.00" rx="15.00" ry="16.00" transform="rotate(0.0 127.00 450.00)" fill="none" stroke="#e02424" stroke-width="1.2"/>
<ellipse cx="133.00" cy="454.00" rx="6.00" ry="8.00" transform="rotate(0.0 133.00 454.00)" fill="none" stroke="#e02424" stroke-width="1.2"/>
<ellipse cx="131.00" cy="456.00" rx="8.00" ry="10.00" transform="rotate(0.0 131.00 456.00)" fill="none" stroke="#e02424" stroke-width="1.2"/>
<ellipse cx="135.00" cy="452.00" rx="7.00" ry="9.00" transform="rotate(0.0 135.00 452.00)" fill="none" stroke="#e02424" stroke-width="1.2"/>
<ellipse cx="130.00" cy="453.00" rx="10.00" ry="12.00" transform="rotate(0.0 130.00 453.00)" fill="none" stroke="#e02424" stroke-width="1.2"/>
</g>
<circle cx="116.34" cy="545.40" r="2.3" fill="#fff" stroke="#1e1e8c" stroke-width="0.9"/>
<circle cx="122.11" cy="519.88" r="2.3" fill="#fff" stroke="#1e1e8c" stroke-width="0.9"/>
<circle cx="128.18" cy="494.16" r="2.3" fill="#fff" stroke="#1e1e8c" stroke-width="0.9"/>
<circle cx="134.55" cy="468.24" r="2.3" fill="#fff" stroke="#1e1e8c" stroke-width="0.9"/>
<circle cx="141.25" cy="442.12" r="2.3" fill="#fff" stroke="#1e1e8c" stroke-width="0.9"/>
<circle cx="148.28" cy="415.79" r="2.3" fill="#fff" stroke="#1e1e8c" stroke-width="0.9"/>
<circle cx="155.67" cy="389.26" r="2.3" fill="#fff" stroke="#1e1e8c" stroke-width="0.9"/>
<circle cx="163.42" cy="362.52" r="2.3" fill="#fff" stroke="#1e1e8c" stroke-width="0.9"/>
<circle cx="171.58" cy="335.57" r="2.3" fill="#fff" stroke="#1e1e8c" stroke-width="0.9"/>
<ellipse cx="136.30" cy="455.80" rx="3.90" ry="2.60" transform="rotate(-83.0 136.30 455.80)" fill="none" stroke="#000" stroke-width="1.4"/>
<text x="144.6" y="361.6" font-size="8.8" text-anchor="start" fill="#111" >650</text>
<text x="129.8" y="415" font-size="8.8" text-anchor="start" fill="#111" >550</text>
<text x="116" y="467.6" font-size="8.8" text-anchor="start" fill="#111" >450</text>
<text transform="translate(107.6,515.7) rotate(90)" text-anchor="middle" font-size="8.5" fill="#222">350</text>
<text x="263.8" y="344.7" font-size="16.3" text-anchor="start" fill="#111" >LF-12-02</text>
<rect x="192.7" y="507.2" width="139.4" height="51.6" rx="9" fill="#fff" stroke="#333" stroke-width="1"/>
<text x="262.4" y="519.5" font-size="8.1" text-anchor="middle" fill="#111" style="stroke-width:0.12px">Concordia Age = 472.2 ±4.9 Ma</text>
<text x="262.4" y="530.05" font-size="8.1" text-anchor="middle" fill="#111" style="stroke-width:0.12px">(2σ, decay-const. errs included)</text>
<text x="262.4" y="540.6" font-size="8.1" text-anchor="middle" fill="#111" style="stroke-width:0.12px">MSWD (of concordance) = 3.2,</text>
<text x="262.4" y="551.15" font-size="8.1" text-anchor="middle" fill="#111" style="stroke-width:0.12px">Probability (of concordance) = 0.075</text>
<line x1="44.5" y1="319" x2="342.5" y2="319" stroke="#8a8a8a" stroke-width="1.6"/>
<line x1="342.5" y1="319" x2="342.5" y2="569.3" stroke="#8a8a8a" stroke-width="1.6"/>
<line x1="44.5" y1="319" x2="44.5" y2="569.3" stroke="#a8a8a8" stroke-width="1.6"/>
<line x1="44.5" y1="569.3" x2="342.5" y2="569.3" stroke="#a8a8a8" stroke-width="1.6"/>
<text x="1" y="607.2" font-size="12" text-anchor="start" fill="#111" style="stroke-width:0.3px">(c)</text>
<text x="37.2" y="862.3" font-size="8.8" text-anchor="end" fill="#111" >0.06</text>
<text x="37.2" y="790.9571428571428" font-size="8.8" text-anchor="end" fill="#111" >0.07</text>
<text x="37.2" y="719.6142857142856" font-size="8.8" text-anchor="end" fill="#111" >0.08</text>
<text x="37.2" y="648.2714285714286" font-size="8.8" text-anchor="end" fill="#111" >0.09</text>
<text x="44.5" y="872.8" font-size="8.8" text-anchor="middle" fill="#111" >0.3</text>
<text x="129.64285714285717" y="872.8" font-size="8.8" text-anchor="middle" fill="#111" >0.5</text>
<text x="214.78571428571428" y="872.8" font-size="8.8" text-anchor="middle" fill="#111" >0.7</text>
<text x="299.92857142857144" y="872.8" font-size="8.8" text-anchor="middle" fill="#111" >0.9</text>
<line x1="87.07" y1="859.3" x2="87.07" y2="856.3" stroke="#b4b4b4" stroke-width="1"/>
<line x1="129.64" y1="859.3" x2="129.64" y2="856.3" stroke="#b4b4b4" stroke-width="1"/>
<line x1="172.21" y1="859.3" x2="172.21" y2="856.3" stroke="#b4b4b4" stroke-width="1"/>
<line x1="214.79" y1="859.3" x2="214.79" y2="856.3" stroke="#b4b4b4" stroke-width="1"/>
<line x1="257.36" y1="859.3" x2="257.36" y2="856.3" stroke="#b4b4b4" stroke-width="1"/>
<line x1="299.93" y1="859.3" x2="299.93" y2="856.3" stroke="#b4b4b4" stroke-width="1"/>
<line x1="44.5" y1="823.63" x2="47.5" y2="823.63" stroke="#b4b4b4" stroke-width="1"/>
<line x1="44.5" y1="787.96" x2="47.5" y2="787.96" stroke="#b4b4b4" stroke-width="1"/>
<line x1="44.5" y1="752.29" x2="47.5" y2="752.29" stroke="#b4b4b4" stroke-width="1"/>
<line x1="44.5" y1="716.61" x2="47.5" y2="716.61" stroke="#b4b4b4" stroke-width="1"/>
<line x1="44.5" y1="680.94" x2="47.5" y2="680.94" stroke="#b4b4b4" stroke-width="1"/>
<line x1="44.5" y1="645.27" x2="47.5" y2="645.27" stroke="#b4b4b4" stroke-width="1"/>
<text transform="translate(12.8,735) rotate(-90)" text-anchor="middle" font-size="11.3" fill="#222"><tspan font-size="7.6" dy="-4.4">206</tspan><tspan dy="4.4">Pb/</tspan><tspan font-size="7.6" dy="-4.4">238</tspan><tspan dy="4.4">U</tspan></text>
<text x="143.6" y="884.4" font-size="11.5" fill="#222"><tspan font-size="7.8" dy="-4">207</tspan><tspan dy="4">Pb/</tspan><tspan font-size="7.8" dy="-4">235</tspan><tspan dy="4">U</tspan></text>
<text x="91" y="638" font-size="16" text-anchor="start" fill="#111" >DC-12-02</text>
<clipPath id="cp140692028165632"><rect x="44.5" y="609.6" width="298.0" height="249.69999999999993"/></clipPath>
<path d="M-83.21,1287.36 L-82.72,1286.07 L-82.23,1284.77 L-81.74,1283.48 L-81.25,1282.19 L-80.76,1280.90 L-80.27,1279.61 L-79.78,1278.31 L-79.28,1277.02 L-78.79,1275.73 L-78.29,1274.43 L-77.80,1273.14 L-77.30,1271.85 L-76.81,1270.55 L-76.31,1269.26 L-75.81,1267.96 L-75.32,1266.67 L-74.82,1265.37 L-74.32,1264.08 L-73.82,1262.78 L-73.32,1261.49 L-72.82,1260.19 L-72.32,1258.90 L-71.81,1257.60 L-71.31,1256.30 L-70.81,1255.01 L-70.30,1253.71 L-69.80,1252.41 L-69.30,1251.11 L-68.79,1249.82 L-68.28,1248.52 L-67.78,1247.22 L-67.27,1245.92 L-66.76,1244.62 L-66.25,1243.32 L-65.75,1242.02 L-65.24,1240.72 L-64.73,1239.42 L-64.22,1238.12 L-63.70,1236.82 L-63.19,1235.52 L-62.68,1234.22 L-62.17,1232.92 L-61.65,1231.62 L-61.14,1230.32 L-60.62,1229.02 L-60.11,1227.72 L-59.59,1226.41 L-59.08,1225.11 L-58.56,1223.81 L-58.04,1222.51 L-57.52,1221.20 L-57.00,1219.90 L-56.48,1218.60 L-55.96,1217.29 L-55.44,1215.99 L-54.92,1214.68 L-54.40,1213.38 L-53.88,1212.08 L-53.35,1210.77 L-52.83,1209.47 L-52.31,1208.16 L-51.78,1206.85 L-51.26,1205.55 L-50.73,1204.24 L-50.20,1202.94 L-49.68,1201.63 L-49.15,1200.32 L-48.62,1199.02 L-48.09,1197.71 L-47.56,1196.40 L-47.03,1195.09 L-46.50,1193.79 L-45.97,1192.48 L-45.43,1191.17 L-44.90,1189.86 L-44.37,1188.55 L-43.83,1187.24 L-43.30,1185.93 L-42.76,1184.62 L-42.23,1183.31 L-41.69,1182.00 L-41.15,1180.69 L-40.62,1179.38 L-40.08,1178.07 L-39.54,1176.76 L-39.00,1175.45 L-38.46,1174.14 L-37.92,1172.83 L-37.38,1171.51 L-36.83,1170.20 L-36.29,1168.89 L-35.75,1167.58 L-35.20,1166.26 L-34.66,1164.95 L-34.11,1163.64 L-33.57,1162.32 L-33.02,1161.01 L-32.48,1159.69 L-31.93,1158.38 L-31.38,1157.07 L-30.83,1155.75 L-30.28,1154.44 L-29.73,1153.12 L-29.18,1151.81 L-28.63,1150.49 L-28.08,1149.17 L-27.52,1147.86 L-26.97,1146.54 L-26.42,1145.22 L-25.86,1143.91 L-25.31,1142.59 L-24.75,1141.27 L-24.19,1139.95 L-23.64,1138.64 L-23.08,1137.32 L-22.52,1136.00 L-21.96,1134.68 L-21.40,1133.36 L-20.84,1132.04 L-20.28,1130.72 L-19.72,1129.40 L-19.15,1128.08 L-18.59,1126.76 L-18.03,1125.44 L-17.46,1124.12 L-16.90,1122.80 L-16.33,1121.48 L-15.77,1120.16 L-15.20,1118.84 L-14.63,1117.52 L-14.06,1116.19 L-13.49,1114.87 L-12.92,1113.55 L-12.35,1112.23 L-11.78,1110.90 L-11.21,1109.58 L-10.64,1108.26 L-10.07,1106.93 L-9.49,1105.61 L-8.92,1104.29 L-8.34,1102.96 L-7.77,1101.64 L-7.19,1100.31 L-6.62,1098.99 L-6.04,1097.66 L-5.46,1096.34 L-4.88,1095.01 L-4.30,1093.68 L-3.72,1092.36 L-3.14,1091.03 L-2.56,1089.70 L-1.98,1088.38 L-1.39,1087.05 L-0.81,1085.72 L-0.23,1084.39 L0.36,1083.07 L0.94,1081.74 L1.53,1080.41 L2.12,1079.08 L2.70,1077.75 L3.29,1076.42 L3.88,1075.09 L4.47,1073.76 L5.06,1072.43 L5.65,1071.10 L6.24,1069.77 L6.84,1068.44 L7.43,1067.11 L8.02,1065.78 L8.62,1064.45 L9.21,1063.12 L9.81,1061.79 L10.40,1060.45 L11.00,1059.12 L11.60,1057.79 L12.20,1056.46 L12.80,1055.12 L13.40,1053.79 L14.00,1052.46 L14.60,1051.12 L15.20,1049.79 L15.80,1048.45 L16.41,1047.12 L17.01,1045.78 L17.61,1044.45 L18.22,1043.11 L18.83,1041.78 L19.43,1040.44 L20.04,1039.11 L20.65,1037.77 L21.26,1036.43 L21.87,1035.10 L22.48,1033.76 L23.09,1032.42 L23.70,1031.09 L24.31,1029.75 L24.92,1028.41 L25.54,1027.07 L26.15,1025.73 L26.77,1024.40 L27.38,1023.06 L28.00,1021.72 L28.62,1020.38 L29.24,1019.04 L29.85,1017.70 L30.47,1016.36 L31.09,1015.02 L31.71,1013.68 L32.34,1012.34 L32.96,1011.00 L33.58,1009.65 L34.20,1008.31 L34.83,1006.97 L35.45,1005.63 L36.08,1004.29 L36.71,1002.94 L37.33,1001.60 L37.96,1000.26 L38.59,998.92 L39.22,997.57 L39.85,996.23 L40.48,994.88 L41.11,993.54 L41.75,992.20 L42.38,990.85 L43.01,989.51 L43.65,988.16 L44.28,986.82 L44.92,985.47 L45.55,984.12 L46.19,982.78 L46.83,981.43 L47.47,980.08 L48.11,978.74 L48.75,977.39 L49.39,976.04 L50.03,974.70 L50.67,973.35 L51.32,972.00 L51.96,970.65 L52.61,969.30 L53.25,967.95 L53.90,966.60 L54.55,965.26 L55.19,963.91 L55.84,962.56 L56.49,961.21 L57.14,959.86 L57.79,958.51 L58.44,957.15 L59.10,955.80 L59.75,954.45 L60.40,953.10 L61.06,951.75 L61.71,950.40 L62.37,949.04 L63.03,947.69 L63.68,946.34 L64.34,944.99 L65.00,943.63 L65.66,942.28 L66.32,940.93 L66.98,939.57 L67.64,938.22 L68.31,936.86 L68.97,935.51 L69.64,934.15 L70.30,932.80 L70.97,931.44 L71.63,930.09 L72.30,928.73 L72.97,927.37 L73.64,926.02 L74.31,924.66 L74.98,923.30 L75.65,921.95 L76.32,920.59 L76.99,919.23 L77.67,917.87 L78.34,916.52 L79.02,915.16 L79.69,913.80 L80.37,912.44 L81.05,911.08 L81.73,909.72 L82.40,908.36 L83.08,907.00 L83.77,905.64 L84.45,904.28 L85.13,902.92 L85.81,901.56 L86.50,900.20 L87.18,898.84 L87.87,897.48 L88.55,896.11 L89.24,894.75 L89.93,893.39 L90.61,892.03 L91.30,890.66 L91.99,889.30 L92.68,887.94 L93.38,886.57 L94.07,885.21 L94.76,883.85 L95.46,882.48 L96.15,881.12 L96.85,879.75 L97.54,878.39 L98.24,877.02 L98.94,875.66 L99.64,874.29 L100.34,872.93 L101.04,871.56 L101.74,870.19 L102.44,868.83 L103.14,867.46 L103.85,866.09 L104.55,864.72 L105.26,863.36 L105.96,861.99 L106.67,860.62 L107.38,859.25 L108.09,857.88 L108.80,856.51 L109.51,855.14 L110.22,853.78 L110.93,852.41 L111.64,851.04 L112.35,849.67 L113.07,848.29 L113.78,846.92 L114.50,845.55 L115.22,844.18 L115.93,842.81 L116.65,841.44 L117.37,840.07 L118.09,838.69 L118.81,837.32 L119.53,835.95 L120.26,834.58 L120.98,833.20 L121.70,831.83 L122.43,830.46 L123.15,829.08 L123.88,827.71 L124.61,826.33 L125.34,824.96 L126.07,823.58 L126.80,822.21 L127.53,820.83 L128.26,819.46 L128.99,818.08 L129.73,816.70 L130.46,815.33 L131.19,813.95 L131.93,812.57 L132.67,811.20 L133.40,809.82 L134.14,808.44 L134.88,807.06 L135.62,805.69 L136.36,804.31 L137.11,802.93 L137.85,801.55 L138.59,800.17 L139.34,798.79 L140.08,797.41 L140.83,796.03 L141.57,794.65 L142.32,793.27 L143.07,791.89 L143.82,790.51 L144.57,789.13 L145.32,787.75 L146.07,786.37 L146.83,784.98 L147.58,783.60 L148.34,782.22 L149.09,780.84 L149.85,779.45 L150.61,778.07 L151.36,776.69 L152.12,775.30 L152.88,773.92 L153.64,772.53 L154.41,771.15 L155.17,769.77 L155.93,768.38 L156.70,766.99 L157.46,765.61 L158.23,764.22 L158.99,762.84 L159.76,761.45 L160.53,760.07 L161.30,758.68 L162.07,757.29 L162.84,755.90 L163.62,754.52 L164.39,753.13 L165.16,751.74 L165.94,750.35 L166.71,748.96 L167.49,747.58 L168.27,746.19 L169.05,744.80 L169.83,743.41 L170.61,742.02 L171.39,740.63 L172.17,739.24 L172.95,737.85 L173.74,736.46 L174.52,735.07 L175.31,733.67 L176.09,732.28 L176.88,730.89 L177.67,729.50 L178.46,728.11 L179.25,726.71 L180.04,725.32 L180.83,723.93 L181.63,722.54 L182.42,721.14 L183.21,719.75 L184.01,718.35 L184.81,716.96 L185.60,715.57 L186.40,714.17 L187.20,712.78 L188.00,711.38 L188.80,709.99 L189.61,708.59 L190.41,707.19 L191.21,705.80 L192.02,704.40 L192.82,703.00 L193.63,701.61 L194.44,700.21 L195.25,698.81 L196.06,697.41 L196.87,696.02 L197.68,694.62 L198.49,693.22 L199.30,691.82 L200.12,690.42 L200.93,689.02 L201.75,687.62 L202.57,686.22 L203.38,684.82 L204.20,683.42 L205.02,682.02 L205.84,680.62 L206.67,679.22 L207.49,677.82 L208.31,676.42 L209.14,675.01 L209.96,673.61 L210.79,672.21 L211.62,670.81 L212.44,669.40 L213.27,668.00 L214.10,666.60 L214.93,665.19 L215.77,663.79 L216.60,662.39 L217.43,660.98 L218.27,659.58 L219.11,658.17 L219.94,656.77 L220.78,655.36 L221.62,653.96 L222.46,652.55 L223.30,651.14 L224.14,649.74 L224.98,648.33 L225.83,646.92 L226.67,645.52 L227.52,644.11 L228.37,642.70 L229.21,641.29 L230.06,639.89 L230.91,638.48 L231.76,637.07 L232.61,635.66 L233.47,634.25 L234.32,632.84 L235.17,631.43 L236.03,630.02 L236.89,628.61 L237.74,627.20 L238.60,625.79 L239.46,624.38 L240.32,622.97 L241.18,621.56 L242.04,620.14 L242.91,618.73 L243.77,617.32 L244.64,615.91 L245.50,614.49 L246.37,613.08 L247.24,611.67 L248.11,610.25 L248.98,608.84 L249.85,607.43 L250.72,606.01 L251.60,604.60 L252.47,603.18 L253.35,601.77 L254.22,600.35 L255.10,598.94 L255.98,597.52 L256.86,596.10 L257.74,594.69 L258.62,593.27 L259.50,591.85 L260.39,590.44 L261.27,589.02 L262.16,587.60 L263.04,586.18 L263.93,584.77 L264.82,583.35 L265.71,581.93 L266.60,580.51 L267.49,579.09 L268.38,577.67 L269.28,576.25 L270.17,574.83 L271.07,573.41 L271.96,571.99 L272.86,570.57 L273.76,569.15 L274.66,567.73 L275.56,566.31 L276.46,564.89 L277.36,563.46 L278.27,562.04 L279.17,560.62 L280.08,559.20 L280.99,557.77 L281.90,556.35 L282.80,554.93 L283.71,553.50 L284.63,552.08 L285.54,550.65 L286.45,549.23 L287.37,547.80 L288.28,546.38 L289.20,544.95 L290.12,543.53 L291.03,542.10 L291.95,540.68 L292.87,539.25 L293.80,537.82 L294.72,536.40 L295.64,534.97 L296.57,533.54 L297.49,532.11 L298.42,530.68 L299.35,529.26 L300.28,527.83 L301.21,526.40 L302.14,524.97 L303.07,523.54 L304.01,522.11 L304.94,520.68 L305.88,519.25 L306.81,517.82 L307.75,516.39 L308.69,514.96 L309.63,513.53 L310.57,512.10 L311.51,510.67 L312.46,509.23 L313.40,507.80 L314.35,506.37 L315.29,504.94 L316.24,503.50 L317.19,502.07 L318.14,500.64 L319.09,499.20 L320.04,497.77 L320.99,496.34 L321.95,494.90 L322.90,493.47 L323.86,492.03 L324.82,490.60 L325.78,489.16 L326.74,487.73 L327.70,486.29 L328.66,484.85 L329.62,483.42 L330.58,481.98 L331.55,480.54 L332.52,479.11 L333.48,477.67 L334.45,476.23 L335.42,474.79 L336.39,473.35 L337.36,471.92 L338.34,470.48 L339.31,469.04" fill="none" stroke="#1e1e8c" stroke-width="2.8" clip-path="url(#cp140692028165632)"/>
<clipPath id="cpc"><rect x="44.5" y="609.6" width="298" height="249.7"/></clipPath>
<g clip-path="url(#cpc)">
<ellipse cx="158.80" cy="738.00" rx="75.50" ry="43.10" transform="rotate(-3.6 158.80 738.00)" fill="none" stroke="#e02424" stroke-width="1.1"/>
<ellipse cx="158.80" cy="757.00" rx="72.10" ry="37.20" transform="rotate(-3.0 158.80 757.00)" fill="none" stroke="#e02424" stroke-width="1.1"/>
<ellipse cx="151.00" cy="782.00" rx="55.70" ry="35.30" transform="rotate(-1.8 151.00 782.00)" fill="none" stroke="#e02424" stroke-width="1.1"/>
<ellipse cx="141.60" cy="786.00" rx="48.10" ry="34.30" transform="rotate(-1.2 141.60 786.00)" fill="none" stroke="#e02424" stroke-width="1.1"/>
<ellipse cx="158.80" cy="790.00" rx="43.70" ry="29.40" transform="rotate(-1.2 158.80 790.00)" fill="none" stroke="#e02424" stroke-width="1.1"/>
<ellipse cx="147.10" cy="768.00" rx="49.20" ry="29.40" transform="rotate(-4.8 147.10 768.00)" fill="none" stroke="#e02424" stroke-width="1.1"/>
<ellipse cx="141.60" cy="750.00" rx="45.90" ry="31.40" transform="rotate(-6.0 141.60 750.00)" fill="none" stroke="#e02424" stroke-width="1.1"/>
<ellipse cx="229.00" cy="760.00" rx="70.00" ry="45.00" transform="rotate(-1.2 229.00 760.00)" fill="none" stroke="#e02424" stroke-width="1.1"/>
<ellipse cx="209.50" cy="728.00" rx="69.90" ry="39.20" transform="rotate(-4.8 209.50 728.00)" fill="none" stroke="#e02424" stroke-width="1.1"/>
<ellipse cx="201.70" cy="735.00" rx="66.70" ry="37.20" transform="rotate(-3.6 201.70 735.00)" fill="none" stroke="#e02424" stroke-width="1.1"/>
<ellipse cx="197.80" cy="758.00" rx="67.80" ry="37.20" transform="rotate(-3.0 197.80 758.00)" fill="none" stroke="#e02424" stroke-width="1.1"/>
<ellipse cx="193.90" cy="750.00" rx="65.60" ry="34.30" transform="rotate(-3.6 193.90 750.00)" fill="none" stroke="#e02424" stroke-width="1.1"/>
<ellipse cx="215.00" cy="697.00" rx="65.60" ry="41.20" transform="rotate(1.2 215.00 697.00)" fill="none" stroke="#e02424" stroke-width="1.1"/>
<ellipse cx="202.50" cy="692.00" rx="60.10" ry="43.10" transform="rotate(1.2 202.50 692.00)" fill="none" stroke="#e02424" stroke-width="1.1"/>
<ellipse cx="213.40" cy="697.00" rx="60.10" ry="40.10" transform="rotate(-4.8 213.40 697.00)" fill="none" stroke="#e02424" stroke-width="1.1"/>
<ellipse cx="205.60" cy="712.00" rx="60.10" ry="37.20" transform="rotate(-2.4 205.60 712.00)" fill="none" stroke="#e02424" stroke-width="1.1"/>
<ellipse cx="197.80" cy="718.00" rx="54.60" ry="35.30" transform="rotate(-2.4 197.80 718.00)" fill="none" stroke="#e02424" stroke-width="1.1"/>
<ellipse cx="178.30" cy="722.00" rx="56.90" ry="33.30" transform="rotate(-7.2 178.30 722.00)" fill="none" stroke="#e02424" stroke-width="1.1"/>
<ellipse cx="166.60" cy="740.00" rx="54.60" ry="33.30" transform="rotate(-4.8 166.60 740.00)" fill="none" stroke="#e02424" stroke-width="1.1"/>
<ellipse cx="174.40" cy="750.00" rx="52.40" ry="31.40" transform="rotate(-3.6 174.40 750.00)" fill="none" stroke="#e02424" stroke-width="1.1"/>
<ellipse cx="182.20" cy="735.00" rx="49.20" ry="31.40" transform="rotate(-4.8 182.20 735.00)" fill="none" stroke="#e02424" stroke-width="1.1"/>
<ellipse cx="170.50" cy="762.00" rx="49.20" ry="29.40" transform="rotate(-3.0 170.50 762.00)" fill="none" stroke="#e02424" stroke-width="1.1"/>
<ellipse cx="162.70" cy="775.00" rx="45.90" ry="27.40" transform="rotate(-3.0 162.70 775.00)" fill="none" stroke="#e02424" stroke-width="1.1"/>
<ellipse cx="178.30" cy="780.00" rx="43.70" ry="27.40" transform="rotate(-2.4 178.30 780.00)" fill="none" stroke="#e02424" stroke-width="1.1"/>
<ellipse cx="193.90" cy="780.00" rx="43.70" ry="25.50" transform="rotate(-2.4 193.90 780.00)" fill="none" stroke="#e02424" stroke-width="1.1"/>
<ellipse cx="158.80" cy="750.00" rx="43.70" ry="29.40" transform="rotate(-4.8 158.80 750.00)" fill="none" stroke="#e02424" stroke-width="1.1"/>
<ellipse cx="170.50" cy="728.00" rx="43.70" ry="29.40" transform="rotate(-6.0 170.50 728.00)" fill="none" stroke="#e02424" stroke-width="1.1"/>
<ellipse cx="205.60" cy="760.00" rx="43.70" ry="29.40" transform="rotate(-3.6 205.60 760.00)" fill="none" stroke="#e02424" stroke-width="1.1"/>
<ellipse cx="201.70" cy="775.00" rx="43.70" ry="27.40" transform="rotate(-3.0 201.70 775.00)" fill="none" stroke="#e02424" stroke-width="1.1"/>
<ellipse cx="154.90" cy="760.00" rx="39.40" ry="25.50" transform="rotate(-3.6 154.90 760.00)" fill="none" stroke="#e02424" stroke-width="1.1"/>
<ellipse cx="213.40" cy="745.00" rx="37.10" ry="27.40" transform="rotate(-3.6 213.40 745.00)" fill="none" stroke="#e02424" stroke-width="1.1"/>
<ellipse cx="225.10" cy="770.00" rx="39.40" ry="27.40" transform="rotate(-3.0 225.10 770.00)" fill="none" stroke="#e02424" stroke-width="1.1"/>
<ellipse cx="232.90" cy="740.00" rx="43.70" ry="31.40" transform="rotate(-3.6 232.90 740.00)" fill="none" stroke="#e02424" stroke-width="1.1"/>
<ellipse cx="170.50" cy="790.00" rx="38.20" ry="23.50" transform="rotate(-1.8 170.50 790.00)" fill="none" stroke="#e02424" stroke-width="1.1"/>
<ellipse cx="190.00" cy="790.00" rx="41.50" ry="21.60" transform="rotate(-1.8 190.00 790.00)" fill="none" stroke="#e02424" stroke-width="1.1"/>
<ellipse cx="174.40" cy="722.00" rx="38.20" ry="25.50" transform="rotate(-3.6 174.40 722.00)" fill="none" stroke="#e02424" stroke-width="1.1"/>
<ellipse cx="197.80" cy="720.00" rx="43.70" ry="29.40" transform="rotate(-6.0 197.80 720.00)" fill="none" stroke="#e02424" stroke-width="1.1"/>
<ellipse cx="151.00" cy="760.00" rx="54.60" ry="29.40" transform="rotate(-3.6 151.00 760.00)" fill="none" stroke="#e02424" stroke-width="1.1"/>
<ellipse cx="158.80" cy="770.00" rx="60.10" ry="31.40" transform="rotate(-3.0 158.80 770.00)" fill="none" stroke="#e02424" stroke-width="1.1"/>
<ellipse cx="147.10" cy="740.00" rx="49.20" ry="29.40" transform="rotate(-4.8 147.10 740.00)" fill="none" stroke="#e02424" stroke-width="1.1"/>
<ellipse cx="166.60" cy="780.00" rx="54.60" ry="27.40" transform="rotate(-2.4 166.60 780.00)" fill="none" stroke="#e02424" stroke-width="1.1"/>
<ellipse cx="154.90" cy="752.00" rx="56.90" ry="33.30" transform="rotate(-4.2 154.90 752.00)" fill="none" stroke="#e02424" stroke-width="1.1"/>
<ellipse cx="174.40" cy="770.00" rx="60.10" ry="29.40" transform="rotate(-3.0 174.40 770.00)" fill="none" stroke="#e02424" stroke-width="1.1"/>
<ellipse cx="139.30" cy="762.00" rx="41.50" ry="27.40" transform="rotate(-3.6 139.30 762.00)" fill="none" stroke="#e02424" stroke-width="1.1"/>
<ellipse cx="182.20" cy="752.00" rx="60.10" ry="35.30" transform="rotate(-3.6 182.20 752.00)" fill="none" stroke="#e02424" stroke-width="1.1"/>
<ellipse cx="162.70" cy="742.00" rx="52.40" ry="35.30" transform="rotate(-4.8 162.70 742.00)" fill="none" stroke="#e02424" stroke-width="1.1"/>
<ellipse cx="197.80" cy="765.00" rx="54.60" ry="31.40" transform="rotate(-3.0 197.80 765.00)" fill="none" stroke="#e02424" stroke-width="1.1"/>
<ellipse cx="175.50" cy="749.40" rx="9.80" ry="6.30" transform="rotate(-5.0 175.50 749.40)" fill="none" stroke="#000" stroke-width="1.6"/>
</g>
<text x="183" y="686.5" font-size="8" text-anchor="start" fill="#000" style="stroke-width:0.4px;stroke:#000">520</text>
<text x="129" y="783" font-size="8" text-anchor="start" fill="#000" style="stroke-width:0.4px;stroke:#000">440</text>
<rect x="162.6" y="797.5" width="169" height="51" rx="9" fill="#fff" stroke="#333" stroke-width="1"/>
<text x="247.1" y="809.7" font-size="8.1" text-anchor="middle" fill="#111" style="stroke-width:0.12px">Concordia Age = 470.1 ±4.0 Ma</text>
<text x="247.1" y="820.25" font-size="8.1" text-anchor="middle" fill="#111" style="stroke-width:0.12px">(95% confidence, decay-const. errs included)</text>
<text x="247.1" y="830.8000000000001" font-size="8.1" text-anchor="middle" fill="#111" style="stroke-width:0.12px">MSWD (of concordance) = 8.3,1.5</text>
<text x="247.1" y="841.35" font-size="8.1" text-anchor="middle" fill="#111" style="stroke-width:0.12px">Probability (of concordance) = 0.004, 0.002</text>
<line x1="44.5" y1="609.6" x2="342.5" y2="609.6" stroke="#8a8a8a" stroke-width="1.6"/>
<line x1="342.5" y1="609.6" x2="342.5" y2="859.3" stroke="#8a8a8a" stroke-width="1.6"/>
<line x1="44.5" y1="609.6" x2="44.5" y2="859.3" stroke="#a8a8a8" stroke-width="1.6"/>
<line x1="44.5" y1="859.3" x2="342.5" y2="859.3" stroke="#a8a8a8" stroke-width="1.6"/>
</svg></body></html>
